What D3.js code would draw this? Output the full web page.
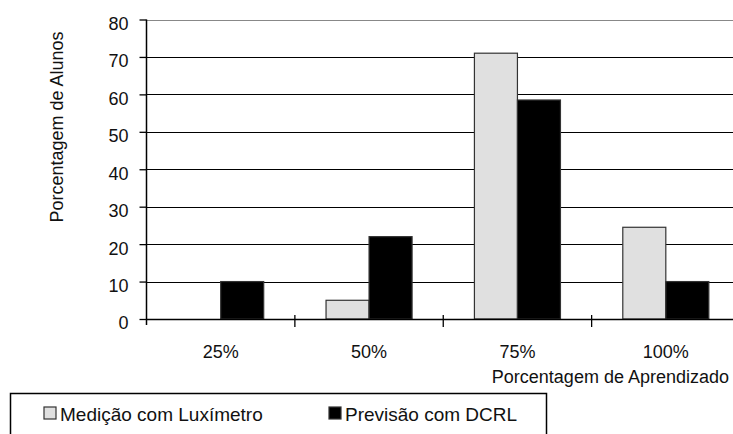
<!DOCTYPE html>
<html>
<head>
<meta charset="utf-8">
<script src="https://cdn.jsdelivr.net/npm/d3@7"></script>
<style>
  html, body { margin: 0; padding: 0; background: #fff; }
  svg { display: block; }
  text { font-family: "Liberation Sans", Arial, sans-serif; fill: #111; }
</style>
</head>
<body>
<svg id="chart" width="733" height="434"></svg>
<script>
// Learning-level categories and the share of students (%) in each
const categories = ["25%", "50%", "75%", "100%"];
const seriesNames = ["Medição com Luxímetro", "Previsão com DCRL"];
const luximetro = [0, 5, 71, 24.5];
const dcrl = [10, 22, 58.5, 10];
const yTicks = [0, 10, 20, 30, 40, 50, 60, 70, 80];
const yTitle = "Porcentagem de Alunos";
const xTitle = "Porcentagem de Aprendizado";

const fills = ["#e0e0e0", "#000000"];
const rows = categories.map((c, i) => ({ cat: c, values: [luximetro[i], dcrl[i]] }));

const svg = d3.select("#chart");
const plotL = 146.5, plotR = 740, plotT = 19.5, plotB = 319;
const fontSize = 18;

const x = d3.scaleBand().domain(categories).range([plotL, plotR]).padding(0);
const x1 = d3.scaleBand().domain(d3.range(seriesNames.length))
  .range([0, x.bandwidth()]).paddingInner(0).paddingOuter(0.7245);
const y = d3.scaleLinear().domain([0, 80]).range([plotB, plotT]);

// horizontal grid lines
svg.append("g")
  .selectAll("line")
  .data(yTicks.filter(d => d > 0))
  .join("line")
  .attr("x1", plotL).attr("x2", 733)
  .attr("y1", d => Math.round(y(d)) + 0.5).attr("y2", d => Math.round(y(d)) + 0.5)
  .attr("stroke", d => d === 80 ? "#888" : "#000")
  .attr("stroke-width", 1.2);

// bars
svg.append("g")
  .selectAll("g")
  .data(rows)
  .join("g")
  .attr("transform", d => `translate(${x(d.cat)},0)`)
  .selectAll("rect")
  .data(d => d.values.map((v, k) => ({ v, k })).filter(e => e.v > 0))
  .join("rect")
  .attr("x", d => x1(d.k))
  .attr("width", x1.bandwidth())
  .attr("y", d => y(d.v))
  .attr("height", d => plotB - y(d.v))
  .attr("fill", d => fills[d.k])
  .attr("stroke", "#333")
  .attr("stroke-width", 1.2);

// y axis
const yAxis = svg.append("g")
  .attr("transform", `translate(${plotL},0)`)
  .call(d3.axisLeft(y).tickValues(yTicks).tickSize(7).tickPadding(11));
yAxis.select(".domain").remove();
yAxis.append("line").attr("x1", 0).attr("x2", 0).attr("y1", plotT).attr("y2", plotB + 6)
  .attr("stroke", "#000").attr("stroke-width", 1.5);
yAxis.selectAll(".tick line").attr("stroke", "#000").attr("stroke-width", 1.3);
yAxis.selectAll(".tick text")
  .attr("font-size", fontSize).attr("fill", "#111")
  .attr("font-family", "Liberation Sans, Arial, sans-serif")
  .attr("dy", "0.55em");

// x axis with tick marks at category boundaries
const xg = svg.append("g");
xg.append("line").attr("x1", plotL).attr("x2", 733).attr("y1", plotB + 0.5).attr("y2", plotB + 0.5)
  .attr("stroke", "#000").attr("stroke-width", 1.3);
xg.selectAll("line.tk")
  .data(categories.slice(1))
  .join("line").attr("class", "tk")
  .attr("x1", d => x(d)).attr("x2", d => x(d))
  .attr("y1", plotB - 4).attr("y2", plotB + 8)
  .attr("stroke", "#000").attr("stroke-width", 1.3);
xg.selectAll("text")
  .data(categories)
  .join("text")
  .attr("x", d => x(d) + x.bandwidth() / 2)
  .attr("y", 358)
  .attr("text-anchor", "middle")
  .attr("font-size", fontSize)
  .text(d => d);

// axis titles
svg.append("text")
  .attr("x", 729).attr("y", 383)
  .attr("text-anchor", "end")
  .attr("font-size", fontSize)
  .text(xTitle);
svg.append("text")
  .attr("transform", "translate(63,127) rotate(-90)")
  .attr("text-anchor", "middle")
  .attr("font-size", fontSize)
  .text(yTitle);

// legend
const lg = svg.append("g");
lg.append("rect").attr("x", 10.5).attr("y", 393.5).attr("width", 536).attr("height", 70)
  .attr("fill", "none").attr("stroke", "#000").attr("stroke-width", 1.5);
const itemX = [44, 329];
seriesNames.forEach((name, k) => {
  lg.append("rect").attr("x", itemX[k]).attr("y", 407).attr("width", 12).attr("height", 12)
    .attr("fill", fills[k]).attr("stroke", "#333").attr("stroke-width", 1.2);
  lg.append("text").attr("x", itemX[k] + 16).attr("y", 421)
    .attr("font-size", 19).text(name);
});
</script>
</body>
</html>
